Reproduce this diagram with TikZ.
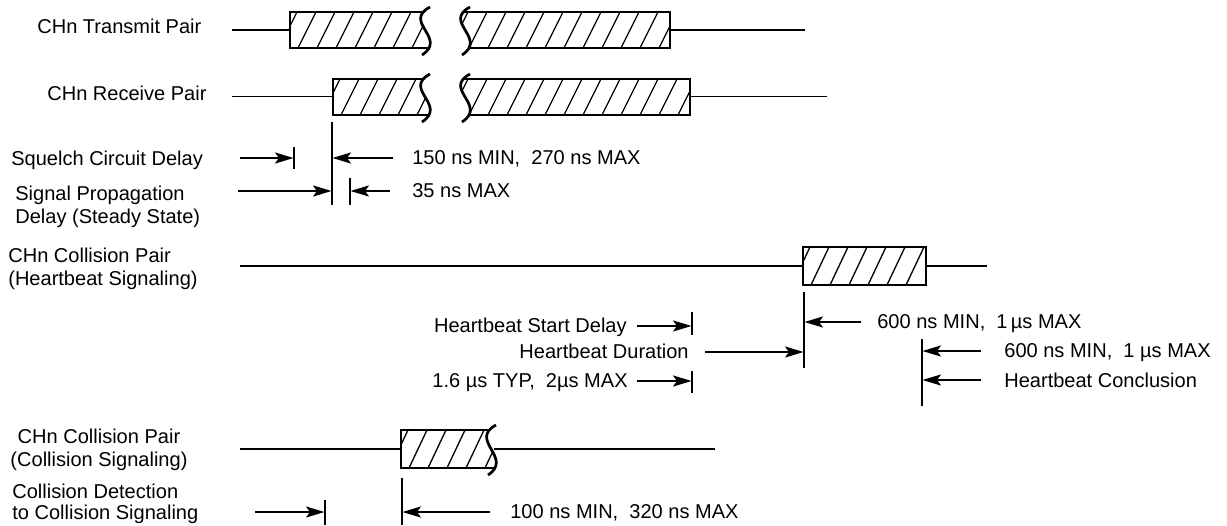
\documentclass[tikz,border=0pt]{standalone}
\usepackage{fontspec}
\setmainfont{Liberation Sans}
\usetikzlibrary{arrows.meta}
\tikzset{
  sig/.style={line width=1.05pt},
  boxline/.style={line width=1.55pt},
  hatchline/.style={line width=0.75pt},
  marker/.style={line width=1.05pt},
  arr/.style={line width=0.95pt,-{Stealth[length=10.5pt,width=6.3pt,inset=2.2pt]}},
  lbl/.style={font=\fontsize{11.4}{13}\selectfont,inner sep=0pt},
}
% wavy break from (X+8,T-5) to (X,B+7)
\newcommand\wavepath[3]{({#1+8},{#2-5}) .. controls ({#1-20},{#2+10}) and ({#1+26},{#3-10}) .. ({#1},{#3+7})}
\newcommand\hatchrange[4]{% xstart, count, top, bottom
  \foreach \k in {0,...,#2}{
    \draw[hatchline] ({#1-30+\k*19},#4) -- ++(18,{#3-#4});
  }}
% box with wavy right edge: left x, wave X, top, bottom
\newcommand\leftbox[4]{%
  \begin{scope}\clip (#1,#3) -- \wavepath{#2}{#3}{#4} -- (#1,#4) -- cycle;
    \hatchrange{#1}{16}{#3}{#4}\end{scope}
  \draw[boxline] ({#2+1},#3) -- (#1,#3) -- (#1,#4) -- ({#2+6},#4);
  \draw[boxline] \wavepath{#2}{#3}{#4};}
% box with wavy left edge: wave X, right x, top, bottom
\newcommand\rightbox[4]{%
  \begin{scope}\clip \wavepath{#1}{#3}{#4} -- (#2,#4) -- (#2,#3) -- cycle;
    \hatchrange{#1-20}{16}{#3}{#4}\end{scope}
  \draw[boxline] ({#1+1},#3) -- (#2,#3) -- (#2,#4) -- ({#1+6},#4);
  \draw[boxline] \wavepath{#1}{#3}{#4};}
\begin{document}
\begin{tikzpicture}[x=0.02cm,y=-0.02cm]
\useasboundingbox (0,0) rectangle (1227,525);

% ---------- Transmit pair
\node[lbl,anchor=base west] (tx) at (37,33) {CHn Transmit Pair};
\coordinate (tx0) at (232,30); \coordinate (tx1) at (290,30);
\coordinate (tx2) at (670,30); \coordinate (tx3) at (805,30);
\draw[sig] (tx0) -- (tx1); \draw[sig] (tx2) -- (tx3);
\leftbox{290}{422}{12}{48}
\rightbox{462}{670}{12}{48}

% ---------- Receive pair
\node[lbl,anchor=base west] (rx) at (47,100) {CHn Receive Pair};
\coordinate (rx0) at (232,96.5); \coordinate (rx1) at (333,96.5);
\coordinate (rx2) at (690,96.5); \coordinate (rx3) at (827,96.5);
\draw[sig] (rx0) -- (rx1); \draw[sig] (rx2) -- (rx3);
\leftbox{333}{422}{79}{115}
\rightbox{462}{690}{79}{115}

% ---------- markers for receive
\coordinate (m1a) at (332,122); \coordinate (m1b) at (332,205);
\draw[marker] (m1a) -- (m1b);
\coordinate (t1a) at (294,147); \coordinate (t1b) at (294,169);
\draw[marker] (t1a) -- (t1b);
\coordinate (t2a) at (350,178); \coordinate (t2b) at (350,205);
\draw[marker] (t2a) -- (t2b);

\node[lbl,anchor=base west] (sq) at (11,165) {Squelch Circuit Delay};
\coordinate (sqs) at (240,158); \coordinate (sqe) at (293.5,158);
\draw[arr] (sqs) -- (sqe);
\coordinate (s150s) at (393,158); \coordinate (s150e) at (332.5,158);
\draw[arr] (s150s) -- (s150e);
\node[lbl,anchor=base west] (t150) at (412,164) {150 ns MIN,~~270 ns MAX};

\node[lbl,anchor=base west] (sp1) at (15,200) {Signal Propagation};
\node[lbl,anchor=base west] (sp2) at (15,223) {Delay (Steady State)};
\coordinate (sps) at (238,191); \coordinate (spe) at (331.5,191);
\draw[arr] (sps) -- (spe);
\coordinate (s35s) at (390,191); \coordinate (s35e) at (350.5,191);
\draw[arr] (s35s) -- (s35e);
\node[lbl,anchor=base west] (t35) at (412,197) {35 ns MAX};

% ---------- Heartbeat collision pair
\node[lbl,anchor=base west] (hb1) at (8,262) {CHn Collision Pair};
\node[lbl,anchor=base west] (hb2) at (8,285) {(Heartbeat Signaling)};
\coordinate (hl0) at (240,266); \coordinate (hl1) at (803,266);
\coordinate (hl2) at (926,266); \coordinate (hl3) at (987,266);
\draw[sig] (hl0) -- (hl1); \draw[sig] (hl2) -- (hl3);
\begin{scope}\clip (803,247) rectangle (926,285); \hatchrange{803}{10}{247}{285}\end{scope}
\draw[boxline] (803,247) rectangle (926,285);

\coordinate (m2a) at (804,292); \coordinate (m2b) at (804,368);
\draw[marker] (m2a) -- (m2b);
\coordinate (m3a) at (922,339); \coordinate (m3b) at (922,406);
\draw[marker] (m3a) -- (m3b);
\coordinate (t3a) at (692,312); \coordinate (t3b) at (692,335);
\draw[marker] (t3a) -- (t3b);
\coordinate (t4a) at (692,371); \coordinate (t4b) at (692,393);
\draw[marker] (t4a) -- (t4b);

\coordinate (a6s) at (861,322); \coordinate (a6e) at (804.5,322);
\draw[arr] (a6s) -- (a6e);
\node[lbl,anchor=base west] (t6a) at (877,328) {600 ns MIN,~~1\,µs MAX};
\coordinate (a7s) at (981,351); \coordinate (a7e) at (922.5,351);
\draw[arr] (a7s) -- (a7e);
\node[lbl,anchor=base west] (t6b) at (1004,357) {600 ns MIN,~~1 µs MAX};
\coordinate (a8s) at (981,380); \coordinate (a8e) at (922.5,380);
\draw[arr] (a8s) -- (a8e);
\node[lbl,anchor=base west] (hc) at (1004,387) {Heartbeat Conclusion};

\node[lbl,anchor=base east] (hsd) at (627,332) {Heartbeat Start Delay};
\coordinate (a9s) at (637,326); \coordinate (a9e) at (691.5,326);
\draw[arr] (a9s) -- (a9e);
\node[lbl,anchor=base east] (hd) at (689,358) {Heartbeat Duration};
\coordinate (a10s) at (705,352); \coordinate (a10e) at (803.5,352);
\draw[arr] (a10s) -- (a10e);
\node[lbl,anchor=base east] (typ) at (628,387) {1.6 µs TYP,~~2µs MAX};
\coordinate (a11s) at (637,381); \coordinate (a11e) at (691.5,381);
\draw[arr] (a11s) -- (a11e);

% ---------- Collision signaling
\node[lbl,anchor=base] (cs1) at (99,443) {CHn Collision Pair};
\node[lbl,anchor=base] (cs2) at (99,466) {(Collision Signaling)};
\coordinate (cl0) at (240,449); \coordinate (cl1) at (401,449);
\coordinate (cl2) at (494,449); \coordinate (cl3) at (715,449);
\draw[sig] (cl0) -- (cl1); \draw[sig] (cl2) -- (cl3);
\leftbox{401}{488}{430}{468}

\coordinate (m4a) at (402,478); \coordinate (m4b) at (402,525);
\draw[marker] (m4a) -- (m4b);
\coordinate (t5a) at (325,500); \coordinate (t5b) at (325,525);
\draw[marker] (t5a) -- (t5b);

\node[lbl,anchor=base west] (cd1) at (12,498) {Collision Detection};
\node[lbl,anchor=base west] (cd2) at (12,519) {to Collision Signaling};
\coordinate (a12s) at (255,512); \coordinate (a12e) at (324.5,512);
\draw[arr] (a12s) -- (a12e);
\coordinate (a13s) at (490,512); \coordinate (a13e) at (402.5,512);
\draw[arr] (a13s) -- (a13e);
\node[lbl,anchor=base west] (t100) at (510,518) {100 ns MIN,~~320 ns MAX};
\end{tikzpicture}
\end{document}
